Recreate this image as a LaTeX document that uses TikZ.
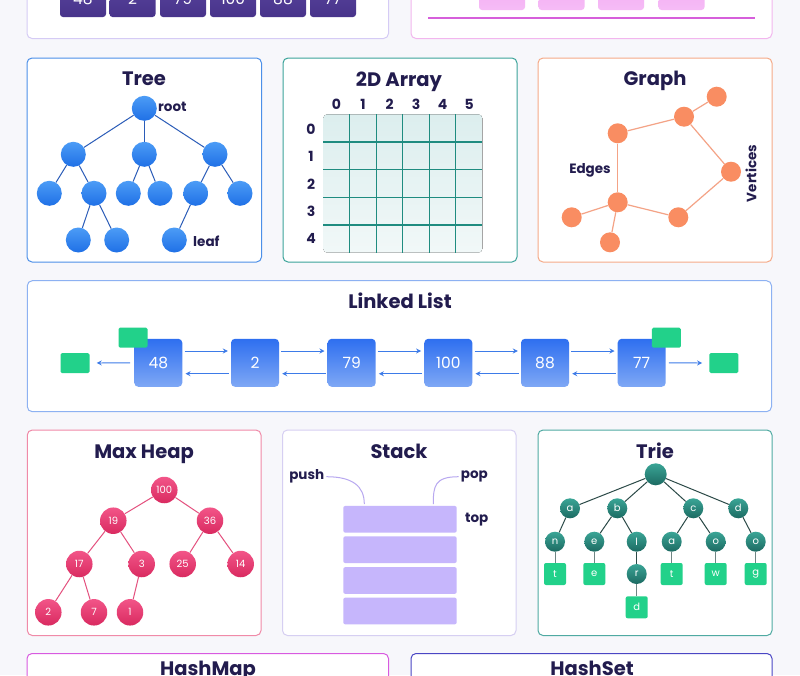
\documentclass[tikz,border=0pt]{standalone}
\usepackage{fontspec}
\setmainfont{Poppins}
\usetikzlibrary{arrows.meta}
\definecolor{bgc}{HTML}{F7F7FB}
\definecolor{ttl}{HTML}{221C4E}
\definecolor{bTree}{HTML}{4C8FE8}
\definecolor{bArr}{HTML}{3BA39A}
\definecolor{bGraph}{HTML}{F5AA88}
\definecolor{bLL}{HTML}{8DB1F2}
\definecolor{bHeap}{HTML}{F08AA8}
\definecolor{bStack}{HTML}{D6CFF2}
\definecolor{bTrie}{HTML}{4FAAA2}
\definecolor{bTopL}{HTML}{D5CBF5}
\definecolor{bTopR}{HTML}{F2B6EE}
\definecolor{bHMap}{HTML}{D85AE0}
\definecolor{bHSet}{HTML}{4A46C4}
\definecolor{treeTop}{HTML}{4C9CF6}
\definecolor{treeBot}{HTML}{1F70E6}
\definecolor{treeEdge}{HTML}{2B5CB8}
\definecolor{gridT}{HTML}{1F8C80}
\definecolor{gridFillA}{HTML}{DCEEEE}
\definecolor{gridFillB}{HTML}{F1F8F8}
\definecolor{grNode}{HTML}{F98D62}
\definecolor{grEdge}{HTML}{F4A386}
\definecolor{llTop}{HTML}{2E6FF0}
\definecolor{llBot}{HTML}{7FA8F5}
\definecolor{llArr}{HTML}{3D7BE8}
\definecolor{greenS}{HTML}{22D18A}
\definecolor{hpTop}{HTML}{F25588}
\definecolor{hpBot}{HTML}{D92A60}
\definecolor{hpEdge}{HTML}{E4507E}
\definecolor{stFill}{HTML}{C6B6FC}
\definecolor{stCurve}{HTML}{B8A8F0}
\definecolor{trTop}{HTML}{3AA596}
\definecolor{trBot}{HTML}{1C6A62}
\definecolor{trEdge}{HTML}{2C4A48}
\definecolor{trEdgeG}{HTML}{6F8583}
\definecolor{cellTop}{HTML}{5A47A0}
\definecolor{cellBot}{HTML}{48338A}
\definecolor{pinkTop}{HTML}{F0A4F2}
\definecolor{pinkBot}{HTML}{F6BCF6}
\definecolor{pinkLine}{HTML}{D65FDB}
\begin{document}
\begin{tikzpicture}[x=1pt,y=-1pt,
  panel/.style={line width=1pt, rounded corners=5pt, fill=white},
  ttlnode/.style={anchor=base, text=ttl, font=\fontsize{19.5}{19.5}\selectfont\bfseries, inner sep=0},
  lbl/.style={text=ttl, font=\fontsize{13.5}{13.5}\selectfont\bfseries, inner sep=0},
  idx/.style={text=ttl, font=\fontsize{14}{14}\selectfont\bfseries, inner sep=0},
  tn/.style={circle, minimum size=25pt, inner sep=0, top color=treeTop, bottom color=treeBot},
  te/.style={draw=treeEdge, line width=1pt},
  gn/.style={circle, minimum size=20pt, inner sep=0, fill=grNode},
  ge/.style={draw=grEdge, line width=1.2pt},
  lln/.style={rectangle, rounded corners=4pt, minimum size=48pt, inner sep=0, top color=llTop, bottom color=llBot, text=white, font=\fontsize{15.5}{15.5}\selectfont},
  lla/.style={draw=llArr, line width=0.9pt, -{Stealth[length=5pt,width=5pt]}, shorten <=2pt, shorten >=3pt},
  grs/.style={rectangle, fill=greenS, minimum width=29pt, minimum height=20pt, rounded corners=1.5pt, inner sep=0},
  hn/.style={circle, minimum size=26.5pt, inner sep=0, top color=hpTop, bottom color=hpBot, text=white, font=\fontsize{10}{10}\selectfont},
  he/.style={draw=hpEdge, line width=1pt},
  slab/.style={rectangle, fill=stFill, minimum width=113.4pt, minimum height=26.7pt, rounded corners=2pt, inner sep=0},
  trc/.style={circle, minimum size=20pt, inner sep=0, top color=trTop, bottom color=trBot, text=white, font=\fontsize{10}{10}\selectfont},
  trs/.style={rectangle, minimum size=22pt, inner sep=0, fill=greenS, rounded corners=2pt, text=white, font=\fontsize{10}{10}\selectfont},
  tre/.style={draw=trEdge, line width=1pt},
  treg/.style={draw=trEdgeG, line width=1pt},
  cell/.style={rectangle, minimum width=46pt, minimum height=40pt, inner sep=0, rounded corners=3pt, top color=cellTop, bottom color=cellBot},
  celltxt/.style={text=white, font=\fontsize{15.5}{15.5}\selectfont, inner sep=0},
  pinkc/.style={rectangle, minimum width=46pt, minimum height=40pt, inner sep=0, rounded corners=3pt, top color=pinkTop, bottom color=pinkBot}
]
\fill[bgc] (0,0) rectangle (800,675);
\useasboundingbox (0,0) rectangle (800,675);

% ---------- top row (cut off) ----------
\draw[panel, draw=bTopL] (27,-60) rectangle (388.5,38.5);
\draw[panel, draw=bTopR] (411,-60) rectangle (772,38.5);
\foreach \x/\v [count=\i] in {83/48,132.5/2,183/79,233/100,283/88,333/77}{
  \node[cell] (cell\i) at (\x,-3) {};
  \node[celltxt] (celltxt\i) at (\x,-1.5) {\v};
}
\foreach \x [count=\i] in {502,561.5,621,681.5}{
  \node[pinkc] (pk\i) at (\x,-10) {};
}
\coordinate (plA) at (428,18);
\coordinate (plB) at (755,18);
\draw[draw=pinkLine, line width=1.2pt] (plA) -- (plB);

% ---------- Tree ----------
\draw[panel, draw=bTree] (27,58) rectangle (261.5,262);
\node[ttlnode] (treeT) at (144,85) {Tree};
\node[tn] (r)  at (144.3,108.3) {};
\node[tn] (a1) at (73.3,154.3) {};
\node[tn] (a2) at (144.3,154.3) {};
\node[tn] (a3) at (215,154.3) {};
\node[tn] (b1) at (49.3,193.3) {};
\node[tn] (b2) at (94,193.3) {};
\node[tn] (b3) at (128.3,193.3) {};
\node[tn] (b4) at (160,193.3) {};
\node[tn] (b5) at (195.7,193.3) {};
\node[tn] (b6) at (240,193.3) {};
\node[tn] (c1) at (78.3,240) {};
\node[tn] (c2) at (116.7,240) {};
\node[tn] (c3) at (174.3,240) {};
\foreach \p/\q in {r/a1,r/a2,r/a3,a1/b1,a1/b2,a2/b3,a2/b4,a3/b5,a3/b6,b2/c1,b2/c2,b5/c3}
  \draw[te] (\p) -- (\q);
\node[lbl, anchor=west] (rootL) at (158,106.5) {root};
\node[lbl, anchor=west] (leafL) at (193,241.5) {leaf};

% ---------- 2D Array ----------
\draw[panel, draw=bArr] (283,58) rectangle (517,262);
\node[ttlnode] (arrT) at (399,86) {2D Array};
\fill[top color=gridFillA, bottom color=gridFillB, rounded corners=4pt] (323.3,114.3) rectangle (482.3,252.7);
\foreach \i in {1,...,5}
  \draw[gridT, line width=1.1pt] (323.3+\i*26.5,114.3) -- (323.3+\i*26.5,252.7);
\foreach \j in {1,...,4}
  \draw[gridT, line width=1.1pt] (323.3,114.3+\j*27.68) -- (482.3,114.3+\j*27.68);
\foreach \i in {0,...,5}
  \node[idx] (col\i) at (336.55+\i*26.5,104.5) {\i};
\foreach \j in {0,...,4}
  \node[idx] (row\j) at (311,129+\j*27.4) {\j};

% ---------- Graph ----------
\draw[panel, draw=bGraph] (538,58) rectangle (772,262);
\node[ttlnode] (grT) at (655,85) {Graph};
\node[gn] (gA) at (716.7,96.7) {};
\node[gn] (gB) at (684,116.7) {};
\node[gn] (gC) at (617.7,133.3) {};
\node[gn] (gD) at (731,171.7) {};
\node[gn] (gE) at (617.7,202.3) {};
\node[gn] (gF) at (678.3,217.3) {};
\node[gn] (gG) at (571.7,217.3) {};
\node[gn] (gH) at (610,242.3) {};
\foreach \p/\q in {gA/gB,gB/gC,gB/gD,gC/gE,gD/gF,gE/gF,gE/gG,gE/gH}
  \draw[ge] (\p) -- (\q);
\node[lbl] (edgesL) at (590,170) {Edges};
\node[lbl, rotate=90] (vertL) at (751,173.3) {Vertices};

% ---------- Linked List ----------
\draw[panel, draw=bLL] (27.3,280.7) rectangle (771.5,411.7);
\node[ttlnode] (llT) at (400,308.5) {Linked List};
\foreach \x/\v [count=\i] in {158.3/48,255/2,351.7/79,448.3/100,545/88,641.7/77}
  \node[lln] (n\i) at (\x,362.8) {\v};
\foreach \i/\j in {1/2,2/3,3/4,4/5,5/6}{
  \draw[lla] ([yshift=11.8pt]n\i.east) -- ([yshift=11.8pt]n\j.west);
  \draw[lla] ([yshift=-10.9pt]n\j.west) -- ([yshift=-10.9pt]n\i.east);
}
\node[grs] (hd) at (133,337.7) {};
\node[grs] (tl) at (666.3,337.7) {};
\node[grs] (nullL) at (75,363) {};
\node[grs] (nullR) at (723.8,363) {};
\draw[lla, shorten <=4pt, shorten >=7pt] (n1.west) -- (nullL.east);
\draw[lla, shorten <=3pt, shorten >=7pt] (n6.east) -- (nullR.west);

% ---------- Max Heap ----------
\draw[panel, draw=bHeap] (27.3,430) rectangle (261,635.5);
\node[ttlnode] (hpT) at (144,458.5) {Max Heap};
\node[hn] (h100) at (164.3,490) {100};
\node[hn] (h19) at (113.3,520.7) {19};
\node[hn] (h36) at (210,520.7) {36};
\node[hn] (h17) at (79.3,564) {17};
\node[hn] (h3) at (141.7,564) {3};
\node[hn] (h25) at (182.7,564) {25};
\node[hn] (h14) at (240.7,564) {14};
\node[hn] (h2) at (48.3,612.3) {2};
\node[hn] (h7) at (94,612.3) {7};
\node[hn] (h1) at (130,612.3) {1};
\foreach \p/\q in {h100/h19,h100/h36,h19/h17,h19/h3,h36/h25,h36/h14,h17/h2,h17/h7,h3/h1}
  \draw[he] (\p) -- (\q);

% ---------- Stack ----------
\draw[panel, draw=bStack] (282.5,430) rectangle (516,635.5);
\node[ttlnode] (stT) at (399,458) {Stack};
\node[slab] (s1) at (400,519.3) {};
\node[slab] (s2) at (400,549.7) {};
\node[slab] (s3) at (400,580.5) {};
\node[slab] (s4) at (400,611) {};
\node[lbl] (pushL) at (306.7,476.7) {push};
\node[lbl] (popL) at (474.3,476.7) {pop};
\node[lbl] (topL) at (476.7,520) {top};
\coordinate (pushE) at (364.3,504);
\coordinate (popE) at (433.3,504);
\draw[stCurve, line width=1pt] ([xshift=2pt]pushL.east) .. controls +(26,0) and +(0,-18) .. (pushE);
\draw[stCurve, line width=1pt] (popE) .. controls +(0,-18) and +(-24,0) .. ([xshift=-2pt]popL.west);

% ---------- Trie ----------
\draw[panel, draw=bTrie] (538,430) rectangle (772,635.5);
\node[ttlnode] (trT) at (655,458.5) {Trie};
\node[trc, minimum size=22pt] (t0) at (655.7,474.3) {};
\node[trc] (ta) at (570,508.3) {a};
\node[trc] (tb) at (617.3,508.3) {b};
\node[trc] (tc) at (693.3,508.3) {c};
\node[trc] (td) at (738.3,508.3) {d};
\node[trc] (tan) at (555,541.7) {n};
\node[trc] (tbe) at (594.3,541.7) {e};
\node[trc] (tbl) at (636.7,541.7) {l};
\node[trc] (tca) at (671.7,541.7) {a};
\node[trc] (tco) at (715.7,541.7) {o};
\node[trc] (tdo) at (755.7,541.7) {o};
\node[trs] (tant) at (555,574) {t};
\node[trs] (tbee) at (594.3,574) {e};
\node[trc] (tblr) at (636.7,574) {r};
\node[trs] (tcat) at (671.7,574) {t};
\node[trs] (tcow) at (715.7,574) {w};
\node[trs] (tdog) at (755.7,574) {g};
\node[trs] (tblrd) at (636.7,607.3) {d};
\foreach \p/\q in {t0/ta,t0/tb,t0/tc,t0/td,ta/tan,tb/tbe,tb/tbl,tc/tca,tc/tco,td/tdo,tbl/tblr}
  \draw[tre] (\p) -- (\q);
\foreach \p/\q in {tan/tant,tbe/tbee,tca/tcat,tco/tcow,tdo/tdog,tblr/tblrd}
  \draw[treg] (\p) -- (\q);

% ---------- bottom row (cut off) ----------
\draw[panel, draw=bHMap] (27,653.5) rectangle (388.5,740);
\draw[panel, draw=bHSet] (411,653.5) rectangle (772,740);
\node[ttlnode] (hmT) at (208,675) {HashMap};
\node[ttlnode] (hsT) at (592,675) {HashSet};
\end{tikzpicture}
\end{document}
